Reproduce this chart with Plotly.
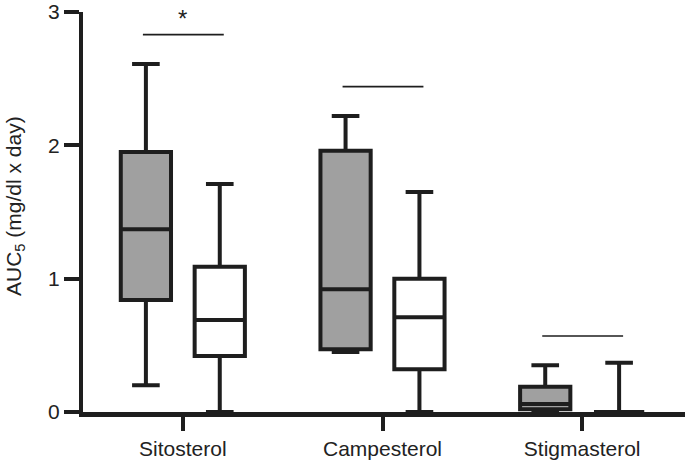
import plotly.graph_objects as go

categories = ["Sitosterol", "Campesterol", "Stigmasterol"]

# Group 1 (gray boxes)
g1_low = [0.20, 0.45, 0.0]
g1_q1 = [0.84, 0.47, 0.02]
g1_med = [1.37, 0.92, 0.06]
g1_q3 = [1.95, 1.96, 0.19]
g1_high = [2.61, 2.22, 0.35]

# Group 2 (white boxes)
g2_low = [0.0, 0.0, 0.0]
g2_q1 = [0.42, 0.32, 0.0]
g2_med = [0.69, 0.71, 0.0]
g2_q3 = [1.09, 1.00, 0.0]
g2_high = [1.71, 1.65, 0.37]

# Significance bars
sig_y = [2.83, 2.44, 0.57]
sig_text = ["*", "", ""]

y_ticks = [0, 1, 2, 3]

line_col = "#1e1e1e"
font = dict(family="Liberation Sans, Arial, sans-serif", size=21, color="#222222")

fig = go.Figure()
fig.add_trace(go.Box(
    x=categories, q1=g1_q1, median=g1_med, q3=g1_q3,
    lowerfence=g1_low, upperfence=g1_high,
    fillcolor="#a0a0a0", line=dict(color=line_col, width=4),
    whiskerwidth=0.55, boxpoints=False, name="g1", offsetgroup="a",
))
fig.add_trace(go.Box(
    x=categories, q1=g2_q1, median=g2_med, q3=g2_q3,
    lowerfence=g2_low, upperfence=g2_high,
    fillcolor="#ffffff", line=dict(color=line_col, width=4),
    whiskerwidth=0.55, boxpoints=False, name="g2", offsetgroup="b",
))

for i, (yv, t) in enumerate(zip(sig_y, sig_text)):
    fig.add_shape(type="line", xref="x", yref="y",
                  x0=i - 0.2, x1=i + 0.205, y0=yv, y1=yv,
                  line=dict(color=line_col, width=1.6))
    if t:
        fig.add_annotation(x=i, y=yv, text=t, showarrow=False, xref="x", yref="y",
                           yshift=16, font=dict(family=font["family"], size=24, color="#222"))

# y-axis title as rotated annotation
fig.add_annotation(text="AUC<sub>5</sub> (mg/dl x day)", textangle=-90,
                   xref="paper", yref="paper", x=0, y=0.5, xanchor="center", yanchor="middle",
                   xshift=-68, yshift=6, showarrow=False,
                   font=dict(family=font["family"], size=21, color="#222"))

fig.update_layout(
    width=685, height=465,
    margin=dict(l=83, r=0, t=12, b=53, autoexpand=False),
    paper_bgcolor="white", plot_bgcolor="white",
    showlegend=False,
    boxmode="group", boxgap=0.26, boxgroupgap=0.32,
    font=font,
)
fig.update_xaxes(
    range=[-0.5, 2.515], showline=True, linewidth=5, linecolor=line_col,
    ticks="outside", ticklen=14, tickwidth=4, tickcolor=line_col,
    showgrid=False, zeroline=False, tickfont=font, automargin=False,
    ticklabelstandoff=0, ticklabeloverflow="allow",
)
fig.update_yaxes(
    range=[0, 3], tickvals=y_ticks, showline=True, linewidth=4, linecolor=line_col,
    ticks="outside", ticklen=15, tickwidth=4, tickcolor=line_col,
    showgrid=False, zeroline=False, tickfont=font, automargin=False,
    ticklabeloverflow="allow",
)

fig.write_html("out.html", config={"displayModeBar": False},
               post_script="document.body.style.margin='0';document.body.style.overflow='hidden';")
